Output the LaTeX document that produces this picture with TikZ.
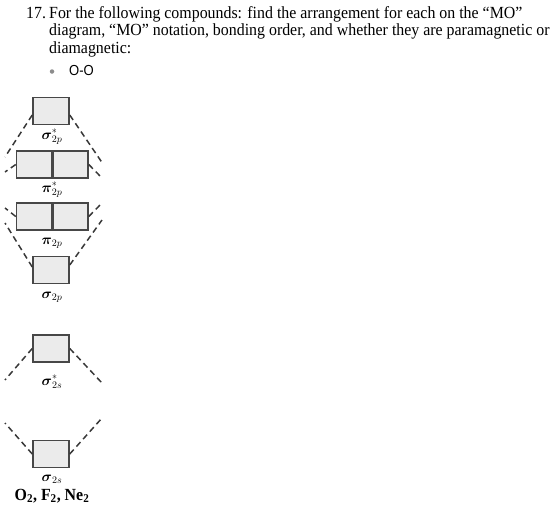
\documentclass[tikz,border=0pt]{standalone}
\usepackage{amsmath, amssymb}
\usepackage{fontspec}
\setmainfont[FakeStretch=0.935]{Liberation Serif}
\newfontfamily\bulletfont[FakeStretch=0.9]{Liberation Sans}
\usepackage{tikz}
\usetikzlibrary{positioning, calc}

\newcommand{\qfont}{\fontsize{17}{17.6}\selectfont}

\begin{document}
\begin{tikzpicture}[x=1pt, y=-1pt,
    orb/.style={draw=black!72, fill=black!8, line width=1.5pt, minimum width=36pt, minimum height=27pt, inner sep=0pt},
    half/.style={orb, minimum width=35pt},
    link/.style={dash pattern=on 6pt off 4pt, draw=black!78, line width=1.5pt},
    molab/.style={font=\fontsize{14.5}{14.5}\selectfont, inner sep=0pt},
    qtext/.style={anchor=base west, inner sep=0pt, font=\qfont}]

    \useasboundingbox (0,0) rectangle (552,506);

    % Question text
    \node[qtext] (qnum) at (26,18.3) {17.};
    \node[qtext] (qline1) at (49,18.3) {For the following compounds: find the arrangement for each on the “MO”};
    \node[qtext] (qline2) at (49,35.8) {diagram, “MO” notation, bonding order, and whether they are paramagnetic or};
    \node[qtext] (qline3) at (49,53.3) {diamagnetic:};
    \node at (52,71.5) [circle, fill=black!45, inner sep=0pt, minimum size=4.5pt] (bul) {};
    \node[anchor=base west, inner sep=0pt, font=\bulletfont\fontsize{14.5}{14.5}\selectfont] (oo) at (69,75.5) {O-O};

    % MO boxes
    \node[orb] (ss2p) at (51,111) {};
    \node[half] (psl) at (34,164.5) {};
    \node[half, right=0pt of psl] (psr) {};
    \node[half] (pl) at (34,216.5) {};
    \node[half, right=0pt of pl] (pr) {};
    \node[orb] (s2p) at (51,270) {};
    \node[orb] (ss2s) at (51,348.5) {};
    \node[orb] (s2s) at (51,454) {};

    % labels
    \node[molab] at (52,137) {$\boldsymbol{\sigma}^{*}_{2p}$};
    \node[molab] at (52,190) {$\boldsymbol{\pi}^{*}_{2p}$};
    \node[molab] at (52,243) {$\boldsymbol{\pi}_{2p}$};
    \node[molab] at (52,297) {$\boldsymbol{\sigma}_{2p}$};
    \node[molab] at (52,382) {$\boldsymbol{\sigma}^{*}_{2s}$};
    \node[molab] at (52,479) {$\boldsymbol{\sigma}_{2s}$};
    \node[anchor=base, inner sep=0pt, font=\bfseries\fontsize{17}{17}\selectfont] (mols) at (52,500) {O\textsubscript{2}, F\textsubscript{2}, Ne\textsubscript{2}};

    % free ends of the correlation lines
    \coordinate (a1) at (5,157);
    \coordinate (a2) at (103,164);
    \coordinate (a3) at (5,172);
    \coordinate (a4) at (102,178);
    \coordinate (a5) at (5,208);
    \coordinate (a6) at (102,203);
    \coordinate (a7) at (5,223);
    \coordinate (a8) at (102,220);
    \coordinate (b1) at (5,380);
    \coordinate (b2) at (102,383);
    \coordinate (b3) at (5,423);
    \coordinate (b4) at (102,418);

    \draw[link] ([yshift=-4pt]ss2p.west) -- (a1);
    \draw[link] ([yshift=-4pt]ss2p.east) -- (a2);
    \draw[link] (psl.west) -- (a3);
    \draw[link] (psr.east) -- (a4);
    \draw[link] (pl.west) -- (a5);
    \draw[link] (pr.east) -- (a6);
    \draw[link] ([yshift=3pt]s2p.west) -- (a7);
    \draw[link] ([yshift=5pt]s2p.east) -- (a8);
    \draw[link] (ss2s.west) -- (b1);
    \draw[link] (ss2s.east) -- (b2);
    \draw[link] (s2s.west) -- (b3);
    \draw[link] (s2s.east) -- (b4);
\end{tikzpicture}
\end{document}
